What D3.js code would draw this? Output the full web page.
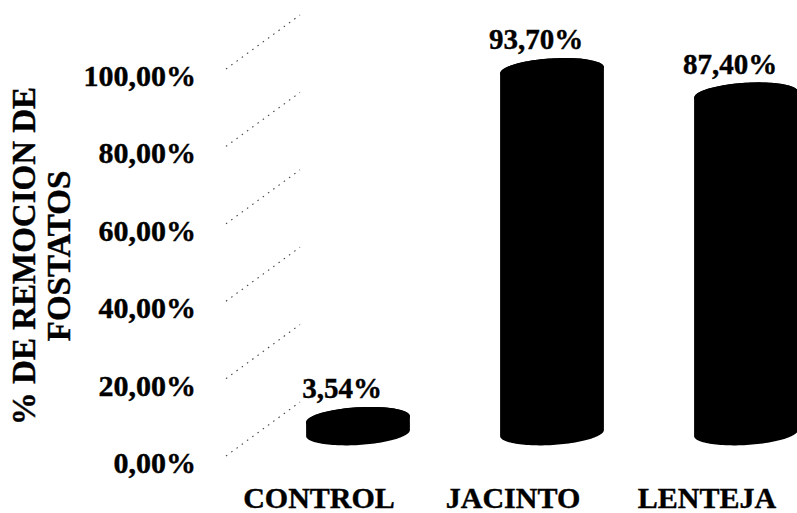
<!DOCTYPE html>
<html>
<head>
<meta charset="utf-8">
<script src="https://cdn.jsdelivr.net/npm/d3@7/dist/d3.min.js"></script>
<style>
  html, body { margin: 0; padding: 0; background: #fff; }
  svg { display: block; }
  text { font-family: "Liberation Serif", "Times New Roman", serif; font-weight: bold; fill: #000; stroke: #000; stroke-width: 0.4px; }
</style>
</head>
<body>
<svg id="chart" width="797" height="513"></svg>
<script>
// Phosphate removal by treatment
const categories = ["CONTROL", "JACINTO", "LENTEJA"];
const removal = [3.54, 93.70, 87.40];
const valueLabels = ["3,54%", "93,70%", "87,40%"];
const tickValues = [0, 20, 40, 60, 80, 100];
const tickLabels = ["0,00%", "20,00%", "40,00%", "60,00%", "80,00%", "100,00%"];
const titleLines = ["% DE REMOCION DE", "FOSTATOS"];

const svg = d3.select("#chart");

// Front (axis) scale and the bars' depth offset
const y = d3.scaleLinear().domain([0, 100]).range([464, 77]);
const depthDy = -31;
const x = d3.scalePoint().domain(categories).range([358, 746]);

const rx = 52, ry = 12;
const tilt = -3.5 * Math.PI / 180;

// Side-wall gridlines (perspective, dotted)
svg.append("g").selectAll("line").data(tickValues).join("line")
  .attr("x1", 226).attr("y1", d => y(d) - 8)
  .attr("x2", 300).attr("y2", d => y(d) - 62)
  .attr("stroke", "#444").attr("stroke-width", 1.1)
  .attr("stroke-dasharray", "1.5,5");

// Tick labels
svg.append("g").selectAll("text").data(tickValues).join("text")
  .attr("x", 196).attr("y", d => y(d) + 9)
  .attr("text-anchor", "end")
  .attr("font-size", 30)
  .text((d, i) => tickLabels[i]);

// Axis title (two rotated lines)
svg.append("g").selectAll("text").data(titleLines).join("text")
  .attr("transform", (d, i) => `translate(${35 + i * 35},256) rotate(-90)`)
  .attr("text-anchor", "middle")
  .attr("font-size", 33)
  .text(d => d);

// Cylinders
function ellipsePoint(cx, cy, t) {
  const c = Math.cos(t), s = Math.sin(t);
  return [cx + rx * c * Math.cos(tilt) - ry * s * Math.sin(tilt),
          cy + rx * c * Math.sin(tilt) + ry * s * Math.cos(tilt)];
}
function cylinderPath(cx, yTop, yBot) {
  const n = 60, pts = [];
  // back edge of the top ellipse, right to left
  for (let k = 0; k <= n; k++) pts.push(ellipsePoint(cx, yTop, -k * Math.PI / n));
  // front edge of the bottom ellipse, left to right
  for (let k = 0; k <= n; k++) pts.push(ellipsePoint(cx, yBot, Math.PI - k * Math.PI / n));
  return "M" + pts.map(p => p.join(",")).join("L") + "Z";
}

const bars = categories.map((c, i) => ({ cat: c, v: removal[i], label: valueLabels[i] }));
const gBars = svg.append("g");
gBars.selectAll("path.body").data(bars).join("path")
  .attr("class", "body")
  .attr("d", d => cylinderPath(x(d.cat), y(d.v) + depthDy, y(0) + depthDy))
  .attr("fill", "#000");
gBars.selectAll("ellipse").data(bars).join("ellipse")
  .attr("cx", d => x(d.cat)).attr("cy", d => y(d.v) + depthDy)
  .attr("rx", rx).attr("ry", ry)
  .attr("transform", d => `rotate(${tilt * 180 / Math.PI},${x(d.cat)},${y(d.v) + depthDy})`)
  .attr("fill", "#000");

// Value labels
svg.append("g").selectAll("text").data(bars).join("text")
  .attr("x", d => x(d.cat) - 16)
  .attr("y", d => y(d.v) + depthDy - ry - 9)
  .attr("text-anchor", "middle")
  .attr("font-size", 29)
  .text(d => d.label);

// Category labels
svg.append("g").selectAll("text").data(categories).join("text")
  .attr("x", d => x(d) - 39)
  .attr("y", 508)
  .attr("text-anchor", "middle")
  .attr("font-size", 30)
  .text(d => d);
</script>
</body>
</html>
